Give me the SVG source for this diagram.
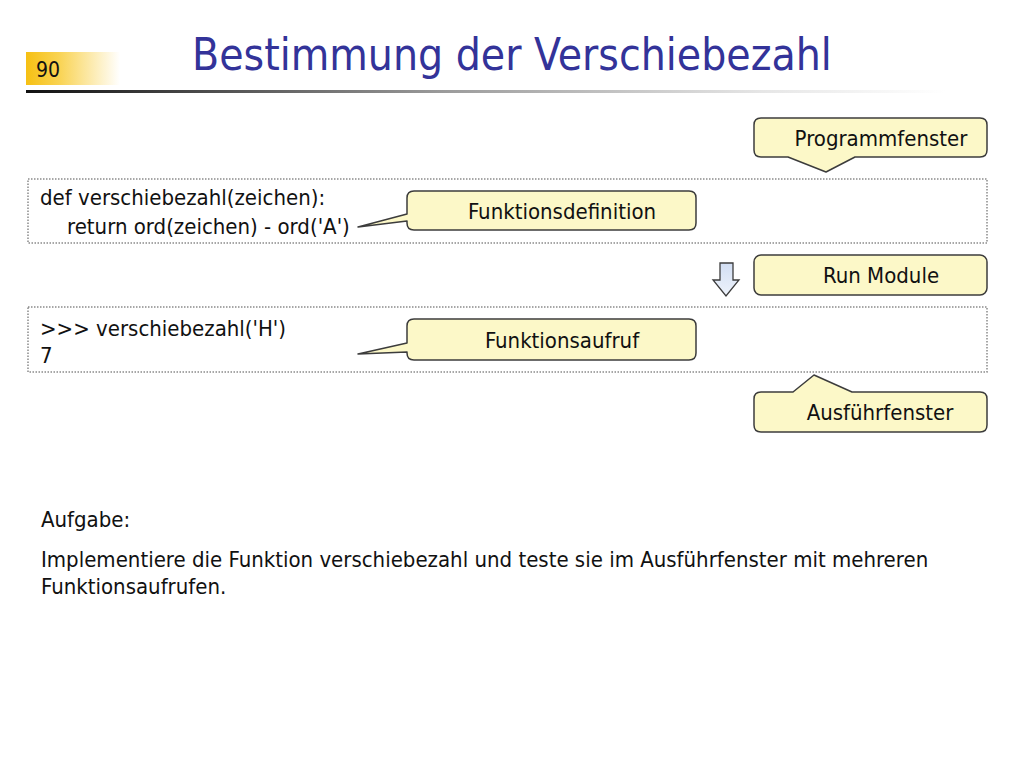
<svg xmlns="http://www.w3.org/2000/svg" width="1024" height="768" viewBox="0 0 1024 768">
<defs>
<linearGradient id="gold" x1="0" y1="0" x2="1" y2="0">
<stop offset="0" stop-color="#f6c013"/>
<stop offset="0.35" stop-color="#f9d352"/>
<stop offset="1" stop-color="#ffffff"/>
</linearGradient>
<linearGradient id="rule" x1="0" y1="0" x2="1" y2="0">
<stop offset="0" stop-color="#111111"/>
<stop offset="0.45" stop-color="#9a9a9a"/>
<stop offset="0.8" stop-color="#e6e6e6"/>
<stop offset="1" stop-color="#ffffff"/>
</linearGradient>
<linearGradient id="blue" x1="0" y1="0" x2="0" y2="1">
<stop offset="0" stop-color="#d2def3"/>
<stop offset="1" stop-color="#eef3fb"/>
</linearGradient>
<style>
text{font-family:"DejaVu Sans Condensed","DejaVu Sans",sans-serif;font-stretch:condensed;fill:#111111}
.title{font-size:44px;fill:#333399}
.body{font-size:22px}
.code{font-size:22px}
.lbl{font-size:22px;text-anchor:middle}
.call{fill:#fcf8c8;stroke:#3c3c3c;stroke-width:1.5;stroke-linejoin:round}
.win{fill:#ffffff;stroke:#8a8a8a;stroke-width:1.5;stroke-dasharray:1.5 1.5}
</style>
</defs>
<g id="header">
<rect x="26" y="52" width="94" height="33" fill="url(#gold)"/>
<text x="36" y="77" style="font-size:21px">90</text>
<text class="title" x="192" y="70">Bestimmung der Verschiebezahl</text>
<rect x="26" y="90" width="920" height="3" fill="url(#rule)"/>
</g>
<g id="programmfenster-box">
<rect class="win" x="28" y="179" width="959" height="64"/>
<text class="code" x="40" y="205">def verschiebezahl(zeichen):</text>
<text class="code" x="67" y="234">return ord(zeichen) - ord('A')</text>
</g>
<g id="ausfuehrfenster-box">
<rect class="win" x="28" y="307" width="959" height="65"/>
<text class="code" x="40" y="336">&gt;&gt;&gt; verschiebezahl('H')</text>
<text class="code" x="40" y="363">7</text>
</g>
<g id="programmfenster">
<path class="call" d="M761,118 H980 Q987,118 987,125 V150 Q987,157 980,157 H855 L826,172 L788,157 H761 Q754,157 754,150 V125 Q754,118 761,118 Z"/>
<text class="lbl" x="881" y="146">Programmfenster</text>
</g>
<g id="funktionsdefinition">
<path class="call" d="M414,191 H689 Q696,191 696,198 V223 Q696,230 689,230 H414 Q407,230 407,223 V221 L358,227 L407,214 V198 Q407,191 414,191 Z"/>
<text class="lbl" x="562" y="219">Funktionsdefinition</text>
</g>
<g id="run-module">
<rect class="call" x="754" y="255" width="233" height="40" rx="7"/>
<text class="lbl" x="881" y="283">Run Module</text>
</g>
<g id="funktionsaufruf">
<path class="call" d="M414,319 H689 Q696,319 696,326 V353 Q696,360 689,360 H414 Q407,360 407,353 V352 L358,354 L407,343 V326 Q407,319 414,319 Z"/>
<text class="lbl" x="562" y="348">Funktionsaufruf</text>
</g>
<g id="ausfuehrfenster">
<path class="call" d="M761,392 H793 L814,375 L852,392 H980 Q987,392 987,399 V425 Q987,432 980,432 H761 Q754,432 754,425 V399 Q754,392 761,392 Z"/>
<text class="lbl" x="880" y="420">Ausführfenster</text>
</g>
<g id="connectors">
<path d="M720,263 H733 V280 H739 L726,296 L713,280 H720 Z" fill="url(#blue)" stroke="#3c3c3c" stroke-width="1.3" stroke-linejoin="miter"/>
</g>
<g id="task">
<text class="body" x="41" y="527">Aufgabe:</text>
<text class="body" x="41" y="567">Implementiere die Funktion verschiebezahl und teste sie im Ausführfenster mit mehreren</text>
<text class="body" x="41" y="594">Funktionsaufrufen.</text>
</g>
</svg>
